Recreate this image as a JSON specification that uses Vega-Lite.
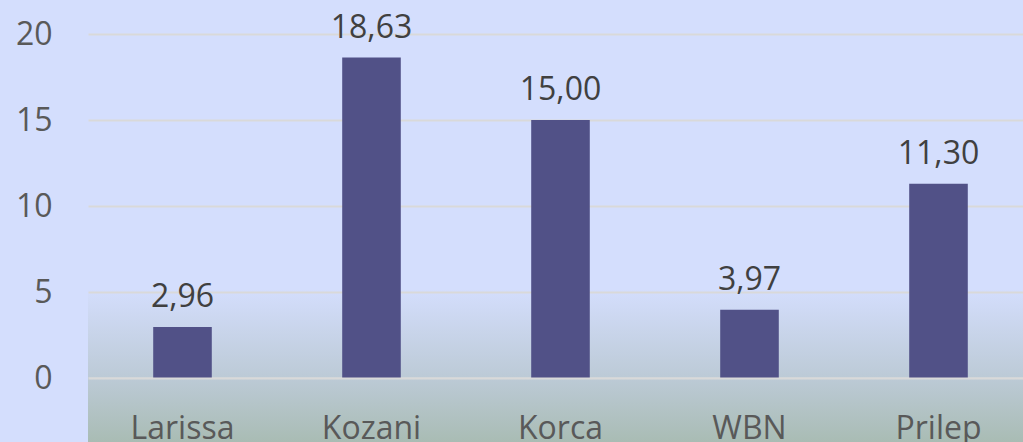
{
  "$schema": "https://vega.github.io/schema/vega-lite/v6.json",
  "autosize": {"type": "none"},
  "width": 945,
  "height": 344,
  "padding": {"left": 88, "top": 34, "right": 0, "bottom": 64},
  "background": "#D4DEFD",
  "config": {
    "view": {"stroke": null, "fill": {"gradient": "linear", "x1": 0, "y1": 0, "x2": 0, "y2": 1, "stops": [
      {"offset": 0, "color": "#D4DEFD"},
      {"offset": 0.74, "color": "#D4DEFD"},
      {"offset": 1, "color": "#BCCAD6"}
    ]}},
    "axisY": {"grid": true, "gridColor": "#D9D9D9", "gridWidth": 2},
    "locale": {"number": {"decimal": ",", "thousands": ".", "grouping": [3], "currency": ["", " €"]}},
    "font": "Open Sans"
  },
  "data": {"values": [
    {"site": "Larissa", "value": 2.96},
    {"site": "Kozani", "value": 18.63},
    {"site": "Korca", "value": 15.00},
    {"site": "WBN", "value": 3.97},
    {"site": "Prilep", "value": 11.30}
  ]},
  "layer": [
    {
      "mark": {"type": "rect", "clip": false, "fill": {"gradient": "linear", "x1": 0, "y1": 0, "x2": 0, "y2": 1, "stops": [
        {"offset": 0, "color": "#BCCAD6"},
        {"offset": 1, "color": "#A9BCB4"}
      ]}},
      "encoding": {
        "y": {"datum": 0, "type": "quantitative", "scale": {"domain": [0, 20]},
          "axis": {"title": null, "values": [0, 5, 10, 15, 20], "grid": true, "ticks": false, "domain": false, "labelFontSize": 32, "labelColor": "#595959", "labelPadding": 36, "gridColor": "#D9D9D9", "gridWidth": 2, "labelFont": "Open Sans"}},
        "y2": {"datum": -3.72}
      }
    },
    {
      "mark": {"type": "bar", "color": "#515187", "width": {"band": 0.31}},
      "encoding": {
        "x": {"field": "site", "type": "nominal", "sort": null, "scale": {"paddingInner": 0, "paddingOuter": 0},
          "axis": {"title": null, "labelAngle": 0, "ticks": false, "domain": true, "domainColor": "#D9D9D9", "domainWidth": 2, "zindex": 1, "labelFontSize": 32, "labelColor": "#595959", "labelPadding": 35, "labelFont": "Open Sans"}},
        "y": {"field": "value", "type": "quantitative", "scale": {"domain": [0, 20]},
          "axis": {"title": null, "values": [0, 5, 10, 15, 20], "grid": true, "ticks": false, "domain": false, "labelFontSize": 32, "labelColor": "#595959", "labelPadding": 36, "gridColor": "#D9D9D9", "gridWidth": 2, "labelFont": "Open Sans"}}
      }
    },
    {
      "mark": {"type": "text", "dy": -20, "fontSize": 32, "color": "#404040", "baseline": "alphabetic", "font": "Open Sans"},
      "encoding": {
        "x": {"field": "site", "type": "nominal", "sort": null},
        "y": {"field": "value", "type": "quantitative"},
        "text": {"field": "value", "type": "quantitative", "format": ".2f"}
      }
    }
  ]
}
